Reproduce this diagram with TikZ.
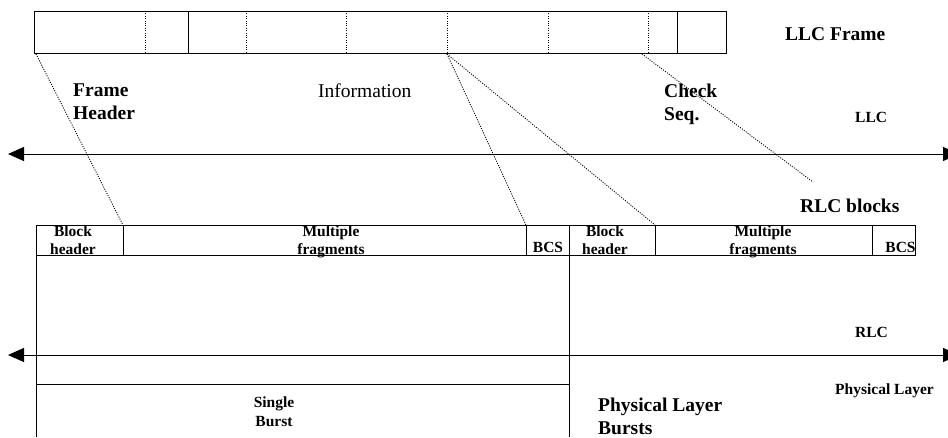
\documentclass[tikz,border=0pt]{standalone}
\usepackage{fontspec}
\setmainfont{Liberation Serif}
\usetikzlibrary{arrows.meta}

\begin{document}
\begin{tikzpicture}[x=1pt, y=-1pt, every node/.style={inner sep=0pt},
    big/.style={font=\fontsize{19.5}{23}\selectfont\bfseries, align=left},
    small/.style={font=\fontsize{15.5}{18.5}\selectfont\bfseries, align=center},
    cut/.style={dash pattern=on 1pt off 1.4pt, line width=0.9pt},
    layer/.style={{Triangle[length=16pt,width=14pt]}-{Triangle[length=16pt,width=14pt]}, line width=1pt}]
        \useasboundingbox (0,0) rectangle (948,437);

        % LLC frame
        \draw[line width=1pt] (34,11) rectangle (726,53);
        \draw[line width=1pt] (188,11) -- (188,53) (677,11) -- (677,53);
        \foreach \x in {145,246,346,447,548,648}
            \draw[cut] (\x,11) -- (\x,53);
        \coordinate (fhead) at (36,54);
        \coordinate (finfo) at (447,54);
        \coordinate (fcheck) at (642,54);

        \node[big, anchor=north west] (framehdr) at (73,84) {Frame\\Header};
        \node[big, font=\fontsize{19.5}{23}\selectfont, anchor=base west] (info) at (318,97) {Information};
        \node[big, anchor=north west] (checkseq) at (664,84) {Check\\Seq.};
        \node[big, anchor=base west] (llcframe) at (785,40) {LLC Frame};
        \node[small, anchor=base west] (llc) at (855,122) {LLC};

        % LLC / RLC boundary
        \coordinate (llcL) at (8,154);
        \coordinate (llcR) at (959,154);
        \draw[layer] (llcL) -- (llcR);

        \node[big, anchor=base west] (rlcblocks) at (800,212) {RLC blocks};

        % RLC blocks
        \draw[line width=1pt] (36,225.5) rectangle (915,255);
        \foreach \x in {123,526,569,655,872}
            \draw[line width=1pt] (\x,225.5) -- (\x,255);
        \coordinate (bhead) at (123,225);
        \coordinate (bbcs) at (526,225);
        \coordinate (bnext) at (655,225);
        \coordinate (bfree) at (813,182);

        \node[small, anchor=north] (hdr1) at (73,225.5) {Block\\header};
        \node[small, anchor=north] (frag1) at (331,225.5) {Multiple\\fragments};
        \node[small, anchor=base] (bcs1) at (548,252) {BCS};
        \node[small, anchor=north] (hdr2) at (605,225.5) {Block\\header};
        \node[small, anchor=north] (frag2) at (763,225.5) {Multiple\\fragments};
        \node[small, anchor=base] (bcs2) at (900.5,252) {BCS};

        \draw[cut] (fhead) -- (bhead);
        \draw[cut] (finfo) -- (bbcs);
        \draw[cut] (finfo) -- (bnext);
        \draw[cut] (fcheck) -- (bfree);

        % burst
        \draw[line width=1pt] (36,255) -- (36,437);
        \draw[line width=1pt] (569,255) -- (569,437);
        \draw[line width=1pt] (36,384) -- (569,384);

        \node[small, anchor=base west] (rlc) at (855,337) {RLC};

        % RLC / physical boundary
        \coordinate (phyL) at (8,355);
        \coordinate (phyR) at (959,355);
        \draw[layer] (phyL) -- (phyR);

        \node[small, anchor=base west] (phy) at (835,394) {Physical Layer};
        \node[small, anchor=north] (single) at (274,397) {Single\\Burst};
        \node[big, anchor=north west] (bursts) at (598,398) {Physical Layer\\Bursts};
\end{tikzpicture}
\end{document}
